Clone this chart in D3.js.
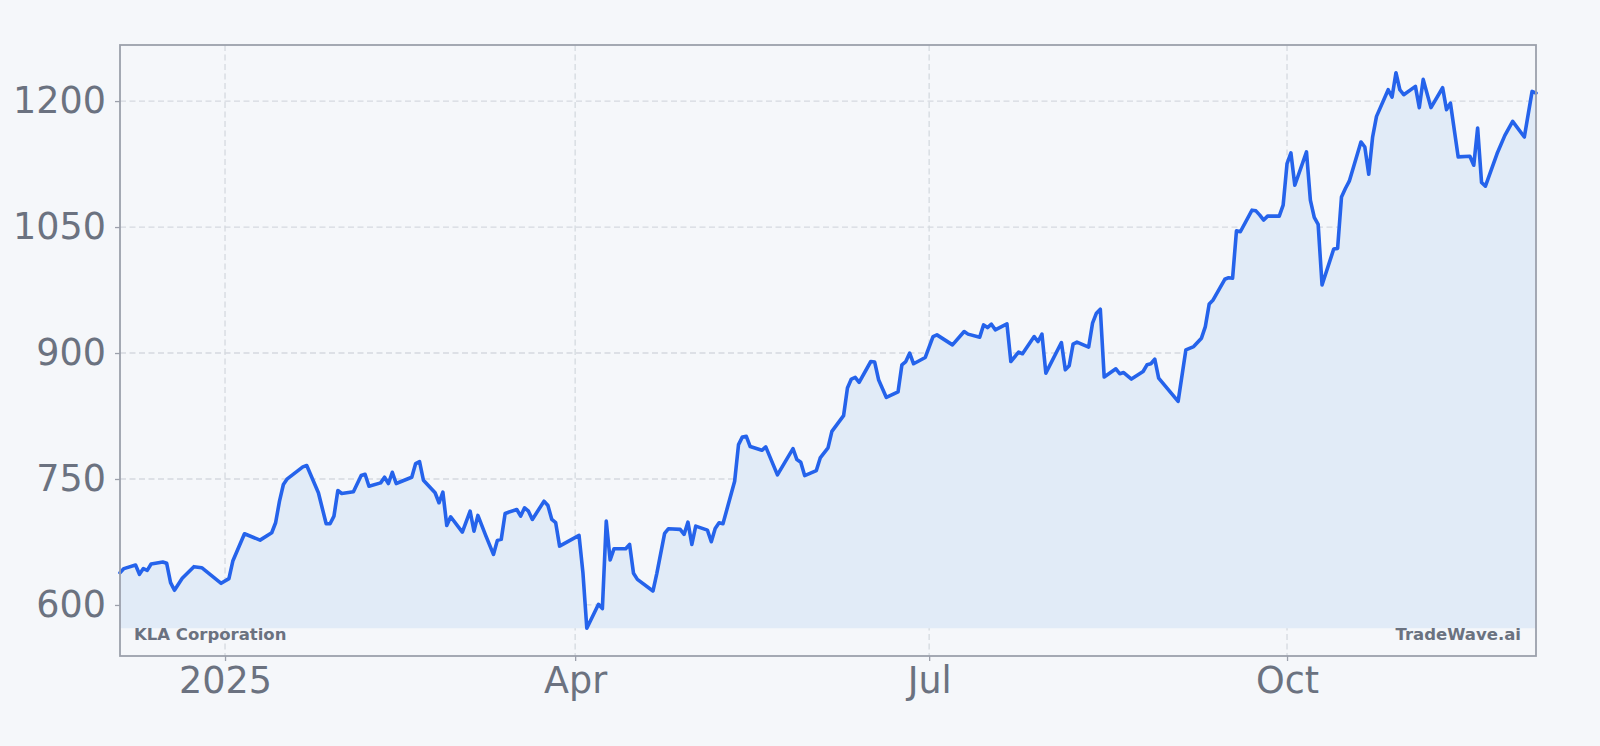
<!DOCTYPE html>
<html>
<head>
<meta charset="utf-8">
<script src="https://cdn.jsdelivr.net/npm/d3@7"></script>
<style>
  html, body { margin: 0; padding: 0; background: #f5f7fa; }
  svg { display: block; }
  text { font-family: "DejaVu Sans", sans-serif; }
</style>
</head>
<body>
<svg id="chart" width="1600" height="746"></svg>
<script>
const dates = [
  "2024-12-05","2024-12-06","2024-12-09","2024-12-10","2024-12-11","2024-12-12","2024-12-13","2024-12-16","2024-12-17","2024-12-18",
  "2024-12-19","2024-12-21","2024-12-24","2024-12-26","2024-12-31","2025-01-02","2025-01-03","2025-01-06","2025-01-10","2025-01-13",
  "2025-01-14","2025-01-15","2025-01-16","2025-01-17","2025-01-21","2025-01-22","2025-01-25","2025-01-27","2025-01-28","2025-01-29",
  "2025-01-30","2025-01-31","2025-02-03","2025-02-05","2025-02-06","2025-02-07","2025-02-10","2025-02-11","2025-02-12","2025-02-13",
  "2025-02-14","2025-02-18","2025-02-19","2025-02-20","2025-02-21","2025-02-24","2025-02-25","2025-02-26","2025-02-27","2025-02-28",
  "2025-03-03","2025-03-05","2025-03-06","2025-03-07","2025-03-09","2025-03-11","2025-03-12","2025-03-13","2025-03-14","2025-03-17",
  "2025-03-18","2025-03-19","2025-03-20","2025-03-21","2025-03-24","2025-03-25","2025-03-26","2025-03-27","2025-03-28","2025-04-02",
  "2025-04-03","2025-04-04","2025-04-07","2025-04-08","2025-04-09","2025-04-10","2025-04-11","2025-04-14","2025-04-15","2025-04-16",
  "2025-04-17","2025-04-21","2025-04-22","2025-04-24","2025-04-25","2025-04-28","2025-04-29","2025-04-30","2025-05-01","2025-05-02",
  "2025-05-05","2025-05-06","2025-05-07","2025-05-08","2025-05-09","2025-05-12","2025-05-13","2025-05-14","2025-05-15","2025-05-16",
  "2025-05-19","2025-05-20","2025-05-23","2025-05-27","2025-05-28","2025-05-29","2025-05-30","2025-06-02","2025-06-03","2025-06-05",
  "2025-06-06","2025-06-09","2025-06-10","2025-06-11","2025-06-12","2025-06-13","2025-06-16","2025-06-17","2025-06-18","2025-06-20",
  "2025-06-23","2025-06-24","2025-06-25","2025-06-26","2025-06-27","2025-06-30","2025-07-02","2025-07-03","2025-07-07","2025-07-10",
  "2025-07-11","2025-07-14","2025-07-15","2025-07-16","2025-07-17","2025-07-18","2025-07-21","2025-07-22","2025-07-24","2025-07-25",
  "2025-07-28","2025-07-29","2025-07-30","2025-07-31","2025-08-04","2025-08-05","2025-08-06","2025-08-07","2025-08-08","2025-08-11",
  "2025-08-12","2025-08-13","2025-08-14","2025-08-15","2025-08-18","2025-08-19","2025-08-20","2025-08-22","2025-08-25","2025-08-26",
  "2025-08-27","2025-08-28","2025-08-29","2025-09-03","2025-09-05","2025-09-07","2025-09-09","2025-09-10","2025-09-11","2025-09-12",
  "2025-09-15","2025-09-16","2025-09-17","2025-09-18","2025-09-19","2025-09-22","2025-09-23","2025-09-24","2025-09-25","2025-09-26",
  "2025-09-29","2025-09-30","2025-10-01","2025-10-02","2025-10-03","2025-10-06","2025-10-07","2025-10-08","2025-10-09","2025-10-10",
  "2025-10-13","2025-10-14","2025-10-15","2025-10-16","2025-10-17","2025-10-20","2025-10-21","2025-10-22","2025-10-23","2025-10-24",
  "2025-10-27","2025-10-28","2025-10-29","2025-10-30","2025-10-31","2025-11-03","2025-11-04","2025-11-05","2025-11-07","2025-11-10",
  "2025-11-11","2025-11-12","2025-11-14","2025-11-17","2025-11-18","2025-11-19","2025-11-20","2025-11-21","2025-11-24","2025-11-26",
  "2025-11-28","2025-12-01","2025-12-03","2025-12-04"
];
const prices = [
  638.5,643.3,647.5,636.5,643.3,641.2,648.7,651.1,649.6,626.6,
  617.5,631.7,645.6,644.4,625.8,631.4,652.3,684.8,677.2,686.0,
  697.9,723.6,743.4,750.2,764.4,766.0,733.6,696.7,696.7,705.8,
  736.3,732.7,734.7,754.1,755.6,741.4,745.4,752.1,744.6,758.0,
  744.6,752.1,768.4,770.7,748.5,733.6,721.7,734.3,694.7,705.0,
  686.7,711.7,687.9,706.6,682.8,660.2,676.9,678.1,709.0,713.7,
  705.8,715.7,711.7,701.8,723.6,718.5,701.8,697.9,670.1,682.8,
  638.5,572.3,600.8,595.7,699.8,653.5,667.0,667.0,672.1,637.7,
  630.5,616.6,637.7,685.2,690.8,690.0,684.0,698.6,672.1,693.9,
  689.1,675.3,691.1,697.9,696.7,747.3,790.9,800.1,800.8,788.6,
  784.2,788.2,754.9,786.2,773.1,769.9,754.1,760.0,775.1,787.0,
  806.7,825.4,858.3,869.0,870.9,865.0,889.9,889.2,868.2,847.1,
  853.6,886.0,889.9,899.9,887.2,894.7,919.6,921.6,909.7,925.6,
  922.5,918.9,933.5,930.3,934.3,927.6,934.7,889.9,901.1,899.1,
  919.6,913.7,922.5,876.1,912.5,880.0,884.8,910.6,913.0,907.0,
  935.5,947.4,952.2,871.4,881.2,875.3,876.8,869.0,878.0,886.0,
  887.2,892.8,870.2,842.4,903.8,907.7,917.7,931.5,958.5,963.2,
  987.8,989.7,989.0,1045.5,1044.4,1070.1,1069.3,1064.2,1058.3,1063.0,
  1063.0,1076.1,1125.6,1138.2,1099.8,1139.4,1082.0,1061.5,1053.1,981.0,
  1023.8,1024.6,1085.9,1095.9,1104.6,1151.3,1145.3,1112.9,1157.2,1181.8,
  1213.5,1204.8,1233.7,1213.5,1207.6,1217.5,1192.2,1225.8,1192.2,1215.9,
  1189.8,1197.6,1133.5,1134.3,1123.6,1167.9,1103.1,1098.7,1137.5,1159.2,
  1175.9,1157.2,1211.5,1209.5
];
const yTickValues = [600, 750, 900, 1050, 1200];
const xTickDates = ["2025-01-01", "2025-04-01", "2025-07-01", "2025-10-01"];
const xTickLabels = ["2025", "Apr", "Jul", "Oct"];
const tickerLabel = "KLA Corporation";
const brandLabel = "TradeWave.ai";

const parse = d3.utcParse("%Y-%m-%d");
const data = dates.map((d, i) => ({ date: parse(d), value: prices[i] }));

const W = 1600, H = 746;
const plot = { left: 120, right: 1536, top: 45, bottom: 656 };

const svg = d3.select("#chart");
svg.append("rect").attr("width", W).attr("height", H).attr("fill", "#f5f7fa");

const x = d3.scaleUtc()
  .domain(d3.extent(data, d => d.date))
  .range([plot.left, plot.right]);

const [vmin, vmax] = d3.extent(data, d => d.value);
const pad = (vmax - vmin) * 0.05;
const y = d3.scaleLinear()
  .domain([vmin - pad, vmax + pad])
  .range([plot.bottom, plot.top]);

const gridColor = "#d5d9df";
const textColor = "#6b7280";
const frameColor = "#9ca0ab";

// grid
const grid = svg.append("g");
grid.selectAll("line.h").data(yTickValues).join("line")
  .attr("x1", plot.left).attr("x2", plot.right)
  .attr("y1", d => y(d)).attr("y2", d => y(d))
  .attr("stroke", gridColor).attr("stroke-width", 1.3).attr("stroke-dasharray", "6,3.5");
grid.selectAll("line.v").data(xTickDates).join("line")
  .attr("x1", d => x(parse(d))).attr("x2", d => x(parse(d)))
  .attr("y1", plot.top).attr("y2", plot.bottom)
  .attr("stroke", gridColor).attr("stroke-width", 1.3).attr("stroke-dasharray", "6,3.5");

// area
const baseline = y(vmin);
svg.append("path").datum(data)
  .attr("fill", "#e1ebf7")
  .attr("d", d3.area().x(d => x(d.date)).y0(baseline).y1(d => y(d.value)));

// line
svg.append("path").datum(data)
  .attr("fill", "none")
  .attr("stroke", "#2563eb")
  .attr("stroke-width", 3.6)
  .attr("stroke-linejoin", "round")
  .attr("stroke-linecap", "round")
  .attr("d", d3.line().x(d => x(d.date)).y(d => y(d.value)));

// frame
svg.append("rect")
  .attr("x", plot.left).attr("y", plot.top)
  .attr("width", plot.right - plot.left).attr("height", plot.bottom - plot.top)
  .attr("fill", "none").attr("stroke", frameColor).attr("stroke-width", 1.8);

// axes
const yAxis = d3.axisLeft(y).tickValues(yTickValues).tickSize(5).tickPadding(9).tickFormat(d3.format("d"));
const gy = svg.append("g").attr("transform", `translate(${plot.left},0)`).call(yAxis);
gy.select(".domain").remove();
gy.selectAll(".tick line").attr("stroke", frameColor).attr("stroke-width", 1.3);
gy.selectAll(".tick text").attr("fill", textColor).attr("font-size", 36.5)
  .attr("font-family", "DejaVu Sans, sans-serif");

const xAxis = d3.axisBottom(x).tickValues(xTickDates.map(parse)).tickSize(5).tickPadding(6)
  .tickFormat((d, i) => xTickLabels[i]);
const gx = svg.append("g").attr("transform", `translate(0,${plot.bottom})`).call(xAxis);
gx.select(".domain").remove();
gx.selectAll(".tick line").attr("stroke", frameColor).attr("stroke-width", 1.3);
gx.selectAll(".tick text").attr("fill", textColor).attr("font-size", 36.5)
  .attr("font-family", "DejaVu Sans, sans-serif");

// labels
svg.append("text").attr("x", 134).attr("y", 640)
  .attr("font-size", 16.5).attr("font-weight", "bold").attr("fill", textColor)
  .text(tickerLabel);
svg.append("text").attr("x", 1521).attr("y", 640).attr("text-anchor", "end")
  .attr("font-size", 16.5).attr("font-weight", "bold").attr("fill", textColor)
  .text(brandLabel);
</script>
</body>
</html>
